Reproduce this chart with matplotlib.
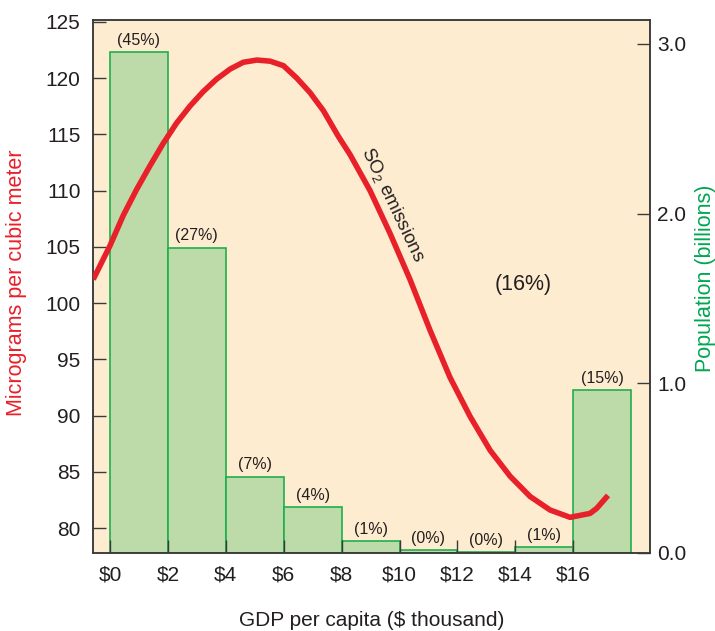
import matplotlib
matplotlib.use("Agg")
import matplotlib.pyplot as plt

plt.rcParams['font.family'] = ['Liberation Sans', 'DejaVu Sans']
plt.rcParams['mathtext.fontset'] = 'custom'
plt.rcParams['mathtext.rm'] = 'Liberation Sans'

# ---- data ----
bin_left = [0, 2, 4, 6, 8, 10, 12, 14, 16]          # GDP bins ($ thousand)
population = [2.95, 1.80, 0.45, 0.27, 0.07, 0.018, 0.006, 0.035, 0.96]  # billions
pct_labels = ['(45%)', '(27%)', '(7%)', '(4%)', '(1%)', '(0%)', '(0%)', '(1%)', '(15%)']

so2_gdp = [-0.58, 0.0, 0.46, 0.92, 1.38, 1.84, 2.30, 2.76, 3.22, 3.68, 4.15, 4.60,
           5.07, 5.53, 5.99, 6.45, 6.91, 7.37, 7.89, 8.29, 8.98, 9.67, 10.36,
           11.05, 11.74, 12.44, 13.13, 13.82, 14.51, 15.20, 15.89, 16.58, 16.81,
           17.20]
so2_ug = [102.1, 105.1, 107.8, 110.1, 112.2, 114.2, 116.0, 117.5, 118.8, 119.9,
          120.8, 121.4, 121.6, 121.5, 121.1, 120.0, 118.7, 117.1, 114.8, 113.2,
          110.0, 106.2, 102.1, 97.6, 93.4, 89.9, 86.9, 84.6, 82.8, 81.6, 80.95,
          81.3, 81.75, 82.9]

x_ticks = [0, 2, 4, 6, 8, 10, 12, 14, 16]
x_ticklabels = ['$0', '$2', '$4', '$6', '$8', '$10', '$12', '$14', '$16']
left_ticks = [80, 85, 90, 95, 100, 105, 110, 115, 120, 125]
right_ticks = [0.0, 1.0, 2.0, 3.0]
right_ticklabels = ['0.0', '1.0', '2.0', '3.0']

# ---- styles ----
RED = '#e8202a'
GREEN_TXT = '#00a651'
BAR_FACE = '#bddba9'
BAR_EDGE = '#1fae4e'
BG = '#feecd0'
DARK = '#231f20'
SPINE = '#3a3a3a'

fig = plt.figure(figsize=(7.15, 6.31), dpi=100)
ax = fig.add_axes([93/715, 1-553/631, (650-93)/715, (553-20)/631])
ax.set_facecolor(BG)

# population bars (right-hand scale) on main axes
ax.bar(bin_left, population, width=2, align='edge', color=BAR_FACE,
       edgecolor=BAR_EDGE, linewidth=1.2, zorder=1)
for xl, p, lab in zip(bin_left, population, pct_labels):
    ax.annotate(lab, (xl + 1, p), xytext=(0, 3), textcoords='offset points',
                ha='center', va='bottom', fontsize=11.5, color=DARK)
ax.text(14.27, 1.58, '(16%)', ha='center', va='center', fontsize=15.5, color=DARK)

ax.set_xlim(-0.587, 18.65)
ax.set_ylim(0, 3.141)
ax.set_xticks(x_ticks)
ax.set_xticklabels(x_ticklabels)

# SO2 curve (left-hand scale)
ax2 = ax.twinx()
ax2.plot(so2_gdp, so2_ug, color=RED, linewidth=4, solid_capstyle='butt',
         solid_joinstyle='round', zorder=3)
ax2.set_ylim(77.78, 125.16)
ax2.yaxis.tick_left()
ax2.yaxis.set_label_position('left')
ax2.set_yticks(left_ticks)
ax2.tick_params(axis='y', direction='in', length=9.5, width=1.0, color=SPINE,
                labelsize=15, labelcolor=DARK, pad=9)
ax2.text(9.74, 108.7, r'SO$_\mathregular{2}$ emissions', rotation=-64.5,
         rotation_mode='anchor', ha='center', va='center', fontsize=13.5, color=DARK)

# main axes: population ticks on the right
ax.yaxis.tick_right()
ax.yaxis.set_label_position('right')
ax.set_yticks(right_ticks)
ax.set_yticklabels(right_ticklabels)
ax.tick_params(axis='both', direction='in', length=9.5, width=1.0, color=SPINE,
               labelsize=15, labelcolor=DARK)
ax.tick_params(axis='x', pad=9)
ax.tick_params(axis='y', pad=5)

for a in (ax, ax2):
    for s in a.spines.values():
        s.set_color(SPINE)
        s.set_linewidth(1.1)

fig.text(372/715, 1-620/631, 'GDP per capita ($ thousand)', ha='center', va='center',
         fontsize=15, color=DARK)
fig.text(17/715, 1-283/631, 'Micrograms per cubic meter', rotation=90, ha='center',
         va='center', fontsize=15.5, color=RED)
fig.text(706/715, 1-278/631, 'Population (billions)', rotation=90, ha='center',
         va='center', fontsize=15.5, color=GREEN_TXT)

fig.savefig('out.png', dpi=100)
